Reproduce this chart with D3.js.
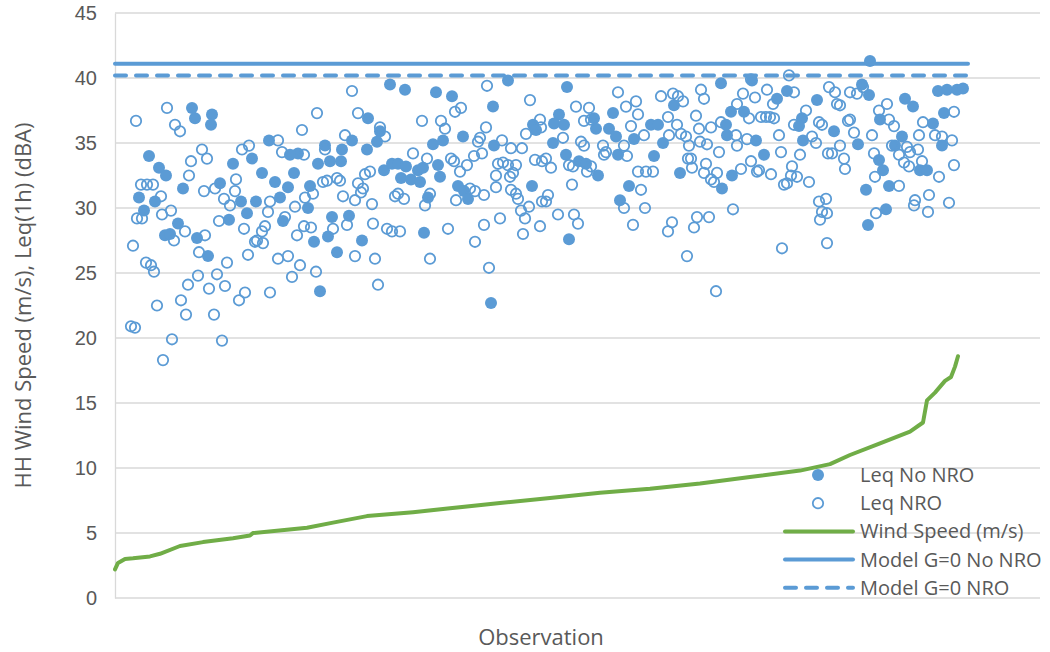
<!DOCTYPE html>
<html>
<head>
<meta charset="utf-8">
<script src="https://cdn.jsdelivr.net/npm/d3@7"></script>
<style>
  html, body { margin: 0; padding: 0; background: #fff; }
  svg { display: block; font-family: "Open Sans", "Noto Sans", sans-serif; }
</style>
</head>
<body>
<svg id="chart" width="1050" height="652"></svg>
<script>
// Leq(1h) with no noise-reduced operation: [observation, dBA]
const leqNoNRO = [
  [77,37.7],[80,36.9],[97,37.2],[96,36.4],[34,34.0],[44,33.1],[51,32.5],[68,31.5],[24,30.8],[40,30.5],
  [29,29.8],[63,28.8],[50,27.9],[55,28.0],[82,27.7],[93,26.3],[105,31.9],[118,33.4],[114,29.1],[126,30.5],
  [132,29.6],[137,33.8],[141,30.5],[275,39.5],[253,36.9],[265,35.9],[262,35.1],[252,34.5],[237,35.2],[227,34.5],
  [210,34.8],[203,33.4],[215,33.6],[226,33.6],[183,34.2],[175,34.1],[154,35.2],[147,32.7],[179,32.7],[160,32.0],
  [173,31.6],[195,31.7],[165,30.8],[193,30.0],[168,29.0],[217,29.3],[234,29.4],[213,27.8],[199,27.4],[222,26.6],
  [247,27.5],[205,23.6],[269,32.9],[277,33.4],[290,39.1],[321,38.9],[337,38.6],[393,39.8],[378,37.8],[348,35.5],
  [318,34.9],[328,35.2],[379,34.8],[418,36.4],[421,36.0],[283,33.4],[286,32.3],[291,33.2],[303,32.9],[308,33.1],
  [296,32.2],[305,32.0],[323,33.3],[325,32.4],[313,30.8],[343,31.7],[349,31.3],[353,30.7],[417,31.7],[309,28.1],
  [376,22.7],[452,39.3],[444,37.2],[439,36.5],[449,36.4],[438,35.0],[451,34.1],[464,33.6],[471,33.4],[483,32.5],
  [479,36.9],[481,36.1],[498,37.3],[494,36.1],[501,35.5],[503,34.1],[519,35.3],[536,36.4],[543,36.4],[548,35.0],
  [539,34.0],[559,37.9],[565,32.7],[514,31.7],[505,30.6],[454,27.6],[606,39.6],[637,39.8],[672,39.0],[662,38.4],
  [702,38.3],[616,37.4],[629,37.4],[611,36.4],[612,35.6],[641,35.2],[649,34.1],[687,36.9],[684,36.3],[688,35.2],
  [617,32.5],[607,31.5],[755,41.3],[747,39.5],[754,38.7],[823,39.0],[832,39.1],[842,39.1],[848,39.2],[790,38.4],
  [798,37.8],[829,37.3],[818,36.5],[765,36.8],[719,35.9],[743,34.9],[780,34.8],[787,35.5],[827,34.8],[764,33.7],
  [768,32.9],[805,32.9],[812,32.9],[751,31.4],[774,31.7],[771,29.9],[753,28.7]
];

// Leq(1h) with noise-reduced operation: [observation, dBA]
const leqNRO = [
  [21,36.7],[52,37.7],[60,36.4],[65,35.9],[87,34.5],[92,33.8],[76,33.6],[74,32.5],[26,31.8],[32,31.8],
  [38,31.8],[46,30.9],[56,29.8],[47,29.5],[22,29.2],[27,29.2],[70,28.2],[59,27.5],[90,27.9],[18,27.1],
  [84,26.6],[31,25.8],[36,25.6],[39,25.1],[112,25.8],[83,24.8],[102,24.9],[73,24.1],[94,23.8],[110,24.0],
  [66,22.9],[124,22.9],[130,23.5],[42,22.5],[71,21.8],[99,21.8],[16,20.9],[20,20.8],[57,19.9],[107,19.8],
  [48,18.3],[89,31.3],[100,31.5],[109,30.7],[120,31.3],[121,32.2],[115,30.2],[104,29.0],[129,28.4],[133,26.4],
  [140,27.4],[127,34.5],[134,34.8],
  [237,39.0],[202,37.3],[243,37.3],[187,36.0],[265,36.2],[230,35.6],[163,35.2],[167,34.3],[189,34.1],[270,35.5],
  [210,34.5],[255,32.8],[250,32.6],[208,32.0],[212,32.1],[222,32.3],[225,32.1],[243,31.9],[248,31.5],[246,31.2],
  [198,31.1],[190,30.8],[228,30.9],[240,30.6],[257,30.3],[280,30.9],[155,30.5],[180,30.1],[153,29.7],[170,29.3],
  [150,28.6],[147,28.2],[148,27.3],[142,27.5],[189,28.6],[196,28.5],[182,27.9],[218,28.4],[232,28.7],[258,28.8],
  [272,28.4],[277,28.2],[163,26.1],[173,26.3],[185,25.6],[177,24.7],[201,25.1],[240,26.3],[260,26.1],[263,24.1],
  [155,23.5],
  [372,39.4],[415,38.3],[346,37.7],[340,37.4],[307,36.7],[326,36.7],[330,36.1],[371,36.2],[365,35.4],[363,35.1],
  [387,35.2],[396,34.6],[407,34.6],[425,36.8],[426,36.2],[411,35.7],[298,34.2],[312,33.8],[336,33.8],[339,33.6],
  [359,34.0],[367,34.2],[352,33.3],[345,32.8],[383,33.4],[388,33.5],[393,33.3],[401,33.3],[381,32.5],[395,32.4],
  [398,32.7],[420,33.7],[427,33.6],[289,30.7],[283,31.1],[315,31.1],[310,30.2],[341,30.6],[355,31.5],[360,31.3],
  [369,31.0],[381,31.6],[396,31.4],[401,31.1],[403,30.7],[414,30.1],[406,29.8],[410,29.2],[427,30.5],[285,28.2],
  [333,28.4],[369,28.7],[385,29.2],[360,27.4],[408,28.0],[425,28.6],[315,26.1],[374,25.4],
  [503,38.9],[546,38.6],[558,38.8],[563,38.6],[568,38.2],[461,37.8],[474,37.7],[511,37.8],[521,38.2],[469,36.7],
  [476,36.8],[523,37.2],[516,36.3],[553,37.0],[562,36.4],[448,35.4],[466,35.1],[469,34.8],[488,34.8],[491,34.3],
  [509,34.8],[529,35.6],[554,35.6],[566,35.7],[571,35.5],[431,33.8],[436,33.1],[454,33.3],[458,33.2],[472,32.8],
  [476,33.2],[489,34.1],[512,34.0],[523,32.8],[531,32.8],[538,32.8],[573,33.8],[457,31.8],[526,31.4],[433,31.0],
  [431,30.5],[443,29.5],[459,29.5],[463,28.8],[509,30.0],[530,30.0],[518,28.7],[557,28.9],[553,28.2],[572,26.3],
  [674,40.2],[586,39.1],[589,38.4],[636,39.9],[652,39.1],[628,38.8],[640,38.5],[622,38.0],[658,38.0],[679,38.9],
  [714,39.3],[691,37.5],[581,37.1],[606,36.6],[634,36.9],[646,37.0],[651,37.0],[655,37.0],[659,36.9],[679,36.4],
  [704,36.6],[707,36.4],[584,36.1],[596,36.2],[621,35.6],[632,35.3],[664,35.6],[697,35.5],[701,35.0],[574,34.8],
  [585,35.1],[592,34.9],[622,34.8],[604,34.3],[666,34.3],[685,34.1],[713,34.2],[576,33.8],[591,33.4],[636,33.6],
  [577,33.1],[589,32.7],[596,32.2],[599,32.0],[602,32.7],[626,33.0],[642,32.8],[644,32.9],[656,32.6],[677,33.2],
  [676,32.5],[682,32.4],[669,31.8],[672,31.9],[694,32.0],[618,29.9],[582,29.3],[594,29.3],[579,28.5],[704,30.5],
  [707,29.7],[705,29.1],[711,30.7],[667,26.9],[712,27.3],[601,23.6],
  [720,38.9],[735,38.9],[742,38.8],[748,39.3],[722,38.0],[725,37.9],[772,38.0],[764,37.5],[735,36.8],[733,36.7],
  [774,36.8],[779,36.3],[808,36.6],[839,37.4],[739,35.8],[757,35.6],[804,35.6],[820,35.6],[827,35.5],[837,35.2],
  [725,34.8],[717,34.2],[729,33.8],[730,33.0],[759,34.2],[777,34.8],[784,34.1],[792,34.7],[795,34.3],[803,34.5],
  [789,33.5],[794,33.2],[807,33.6],[760,32.4],[784,31.7],[824,32.4],[839,33.3],[712,29.6],[800,30.6],[799,30.2],
  [814,31.0],[813,29.7],[834,30.4],[761,29.6]
];

// Hub-height wind speed, sorted ascending: [observation, m/s]
const windSpeed = [
  [0,2.2],[3,2.7],[10,3.0],[18,3.05],[35,3.2],[45,3.4],[65,4.0],[88,4.3],[118,4.6],[135,4.8],
  [138,5.0],[192,5.4],[218,5.8],[252,6.3],[298,6.6],[335,6.9],[385,7.3],[435,7.7],[485,8.1],[535,8.4],
  [585,8.8],[635,9.3],[685,9.8],[715,10.3],[735,11.0],[765,11.9],[795,12.8],[808,13.5],[812,15.2],[820,15.8],
  [830,16.7],[836,17.0],[840,17.8],[843,18.6]
];

// Model predictions (ground factor G = 0), dBA
const modelNoNRO = 41.1;
const modelNRO = 40.2;
const modelSpan = [0, 853];

const yTicks = [0, 5, 10, 15, 20, 25, 30, 35, 40, 45];
const legendLabels = ["Leq No NRO", "Leq NRO", "Wind Speed (m/s)", "Model G=0 No NRO", "Model G=0 NRO"];

const BLUE = "#5B9BD5", GREEN = "#70AD47", GRID = "#D9D9D9", TEXT = "#595959";

const svg = d3.select("#chart");
const plot = { left: 115, right: 1040, top: 13, bottom: 598 };

const x = d3.scaleLinear().domain([0, 853]).range([plot.left, 968]);
const y = d3.scaleLinear().domain([0, 45]).range([plot.bottom, plot.top]);

// gridlines
svg.append("g").selectAll("line").data(yTicks).join("line")
  .attr("x1", plot.left).attr("x2", plot.right)
  .attr("y1", d => y(d)).attr("y2", d => y(d))
  .attr("stroke", GRID).attr("stroke-width", 1.3);

// y axis
const yAxis = d3.axisLeft(y).tickValues(yTicks).tickSize(0).tickPadding(18);
const gy = svg.append("g").attr("transform", `translate(${plot.left},0)`).call(yAxis);
gy.select(".domain").attr("stroke", GRID).attr("stroke-width", 1.3);
gy.selectAll("text").attr("fill", TEXT).style("font-size", "20px").style("font-family", "inherit");

// axis titles
svg.append("text")
  .attr("transform", `translate(31,${(plot.top + plot.bottom) / 2}) rotate(-90)`)
  .attr("text-anchor", "middle").attr("fill", TEXT).style("font-size", "22px")
  .text("HH Wind Speed (m/s), Leq(1h) (dBA)");
svg.append("text")
  .attr("x", 541).attr("y", 645)
  .attr("text-anchor", "middle").attr("fill", TEXT).style("font-size", "22px")
  .text("Observation");

// scatter: filled circles
svg.append("g").selectAll("circle").data(leqNoNRO).join("circle")
  .attr("cx", d => x(d[0])).attr("cy", d => y(d[1])).attr("r", 6)
  .attr("fill", BLUE);

// scatter: open circles
svg.append("g").selectAll("circle").data(leqNRO).join("circle")
  .attr("cx", d => x(d[0])).attr("cy", d => y(d[1])).attr("r", 5.2)
  .attr("fill", "none").attr("stroke", BLUE).attr("stroke-width", 1.8);

// wind speed line
svg.append("path").datum(windSpeed)
  .attr("d", d3.line().x(d => x(d[0])).y(d => y(d[1])))
  .attr("fill", "none").attr("stroke", GREEN).attr("stroke-width", 4)
  .attr("stroke-linejoin", "round").attr("stroke-linecap", "round");

// model lines
svg.append("line")
  .attr("x1", x(modelSpan[0])).attr("x2", x(modelSpan[1]))
  .attr("y1", y(modelNoNRO)).attr("y2", y(modelNoNRO))
  .attr("stroke", BLUE).attr("stroke-width", 4).attr("stroke-linecap", "round");
svg.append("line")
  .attr("x1", x(modelSpan[0])).attr("x2", x(modelSpan[1]))
  .attr("y1", y(modelNRO)).attr("y2", y(modelNRO))
  .attr("stroke", BLUE).attr("stroke-width", 4).attr("stroke-linecap", "round")
  .attr("stroke-dasharray", "11,10");

// legend
const lg = svg.append("g").attr("transform", "translate(783,475)");
const rowH = 28.2;
legendLabels.forEach((label, i) => {
  const row = lg.append("g").attr("transform", `translate(0,${i * rowH})`);
  if (i === 0) row.append("circle").attr("cx", 35).attr("r", 6).attr("fill", BLUE);
  if (i === 1) row.append("circle").attr("cx", 35).attr("r", 5.2).attr("fill", "none")
    .attr("stroke", BLUE).attr("stroke-width", 1.8);
  if (i >= 2) {
    const ln = row.append("line").attr("x1", 2).attr("x2", 70)
      .attr("stroke", i === 2 ? GREEN : BLUE).attr("stroke-width", 4).attr("stroke-linecap", "round");
    if (i === 4) ln.attr("stroke-dasharray", "11,10");
  }
  row.append("text").attr("x", 77).attr("dy", "0.35em")
    .attr("fill", TEXT).style("font-size", "20px").text(label);
});
</script>
</body>
</html>
